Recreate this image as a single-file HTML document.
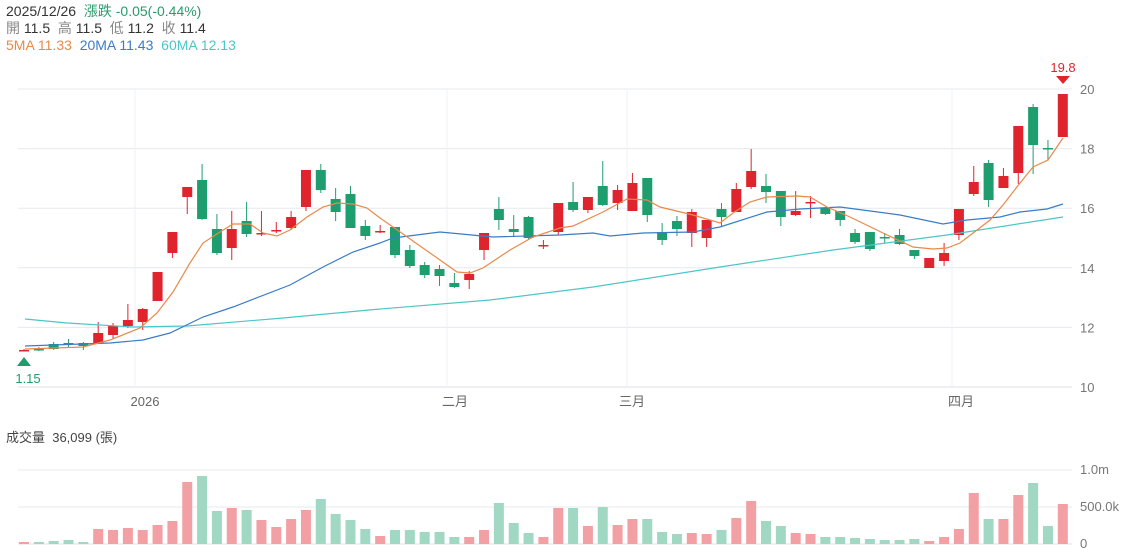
<!DOCTYPE html>
<html><head><meta charset="utf-8"><style>
body{margin:0;background:#fff;width:1133px;height:548px;overflow:hidden;font-family:"Liberation Sans","Noto Sans CJK TC",sans-serif}
.h{position:absolute;left:6px;font-size:14px;line-height:17px;white-space:nowrap}
.g{color:#888}.d{color:#333}
</style></head><body>
<div class="h d" style="top:3px">2025/12/26&nbsp;&nbsp;<span style="color:#2a9b6c">漲跌 -0.05(-0.44%)</span></div>
<div class="h" style="top:20px"><span class="g">開</span> <span class="d">11.5</span>&nbsp;&nbsp;<span class="g">高</span> <span class="d">11.5</span>&nbsp;&nbsp;<span class="g">低</span> <span class="d">11.2</span>&nbsp;&nbsp;<span class="g">收</span> <span class="d">11.4</span></div>
<div class="h" style="top:37px"><span style="color:#e8894a">5MA 11.33</span>&nbsp;&nbsp;<span style="color:#3a7cc8">20MA 11.43</span>&nbsp;&nbsp;<span style="color:#4cc6c8">60MA 12.13</span></div>
<div class="h" style="top:429px;color:#444;font-size:13px">成交量&nbsp;&nbsp;36,099 (張)</div>
<svg id="s" width="1133" height="548" style="position:absolute;left:0;top:0"></svg>
<script>
var s='';
function L(x1,y1,x2,y2,c,w){s+='<line x1="'+x1+'" y1="'+y1+'" x2="'+x2+'" y2="'+y2+'" stroke="'+c+'" stroke-width="'+(w||1)+'"/>';}
function T(x,y,t,c,a,fs){s+='<text x="'+x+'" y="'+y+'" fill="'+c+'" font-size="'+(fs||13)+'" text-anchor="'+(a||'start')+'" font-family="Liberation Sans,Noto Sans CJK TC,sans-serif">'+t+'</text>';}
var gc='#e6e8ee';
[89,148.6,208.2,267.8,327.4].forEach(function(y){L(18,y,1072,y,gc);});
L(18,387,1072,387,'#dcdfe6');
[135,447,627,952].forEach(function(x){L(x,89,x,387,'#eef0f4');});
[[20,89],[18,148.6],[16,208.2],[14,267.8],[12,327.4],[10,387]].forEach(function(a){T(1080,a[1]+5,a[0],'#777');});
T(145,406,'2026','#666','middle');T(455,406,'二月','#666','middle');T(632,406,'三月','#666','middle');T(961,406,'四月','#666','middle');
L(18,470,1072,470,gc);L(18,507,1072,507,gc);L(18,544,1072,544,'#e0e2e8');
T(1080,474,'1.0m','#777');T(1080,511,'500.0k','#777');T(1080,548,'0','#777');
var C=[[350,351,349,351,1],[349,349,347,351,0],[344,349,342,350,0],[343,343,339,347,0],[343,346,342,350,0],[333,343,322,343,1],[326,335,323,339,1],[320,326,304,328,1],[309,322,308,330,1],[272,301,272,301,1],[232,253,232,258,1],[187,197,187,214,1],[180,219,164,220,0],[229,253,214,255,0],[229,248,211,260,1],[221,234,202,237,0],[233,233,211,236,1],[230,230,222,233,1],[217,228,211,230,1],[170,207,170,211,1],[170,190,164,193,0],[199,212,188,221,0],[194,228,186,228,0],[226,236,220,240,0],[231,231,225,233,1],[227,255,227,258,0],[250,266,245,268,0],[265,275,262,278,0],[269,276,265,286,0],[283,287,273,288,0],[274,280,271,289,1],[233,250,233,260,1],[209,220,197,230,0],[229,232,215,237,0],[217,238,216,240,0],[245,245,240,249,1],[203,232,203,235,1],[202,210,182,212,0],[197,210,197,213,1],[186,205,161,206,0],[190,203,185,210,1],[183,211,173,211,1],[178,215,178,222,0],[232,240,223,245,0],[221,229,216,236,0],[212,233,209,247,1],[220,238,220,247,1],[209,217,203,227,0],[189,212,183,212,1],[171,187,149,189,1],[186,192,174,203,0],[191,217,191,226,0],[211,215,191,216,1],[202,202,196,218,1],[208,214,207,215,0],[211,220,211,226,0],[233,242,229,244,0],[232,249,232,251,0],[237,237,233,243,0],[235,244,229,245,0],[250,256,250,259,0],[258,268,258,268,1],[253,261,243,266,1],[209,235,209,240,1],[182,194,166,196,1],[163,200,160,207,0],[176,188,168,188,1],[126,173,126,184,1],[107,145,104,174,0],[148,148,140,160,0],[94,137,94,137,1]];
var V=[542,542,541,540,542,529,530,528,530,525,521,482,476,511,508,510,520,527,519,510,499,514,520,529,536,530,530,532,532,537,537,530,503,523,533,537,508,508,526,507,525,519,519,532,534,533,534,530,518,501,521,526,533,534,537,537,538,539,540,540,539,541,537,529,493,519,519,495,483,526,504];
function X(i){return 24+i*14.84;}
C.forEach(function(c,i){var x=X(i),col=c[4]?'#e0242d':'#1e9e6e';
L(x,c[2],x,c[3],col);var t=Math.min(c[0],c[1]),h=Math.max(Math.abs(c[1]-c[0]),1.5);
s+='<rect x="'+(x-5)+'" y="'+t+'" width="10" height="'+h+'" fill="'+col+'"/>';
s+='<rect x="'+(x-5)+'" y="'+V[i]+'" width="10" height="'+(544-V[i])+'" fill="'+(c[4]?'#f2a0a4':'#a0d8c4')+'"/>';});
function P(pts,c){s+='<polyline fill="none" stroke="'+c+'" stroke-width="1.2" points="'+pts+'"/>';}
P('25,319 67,323 133,327 187,326 283,318 380,309 490,300 593,287 720,267 833,250 947,235 1063,217','#4cc6c8');
P('25,346 110,343 143,340 170,333 203,317 233,307 290,285 323,267 353,252 380,243 393,238 440,232 493,237 560,235 593,233 610,236 643,233 693,232 720,227 767,212 800,209 840,207 900,215 943,224 967,220 1000,217 1020,212 1047,209 1063,204','#3a7cc8');
P('25,349 83,347 110,340 140,328 157,313 173,292 190,263 203,243 220,232 233,224 250,224 263,233 277,236 290,230 307,217 323,207 337,203 353,204 367,208 380,218 393,227 440,260 457,272 470,273 483,268 510,250 533,237 560,228 573,226 603,212 627,199 647,200 660,207 693,215 720,223 733,213 750,202 767,197 797,196 810,197 827,207 850,217 883,233 913,247 933,249 947,248 960,243 977,230 990,220 1003,205 1020,183 1033,167 1048,160 1063,138','#e8894a');
s+='<polygon points="1056,76 1070,76 1063,84" fill="#e0242d"/>';T(1063,72,'19.8','#e0242d','middle');
s+='<polygon points="17,366 31,366 24,357" fill="#1e9e6e"/>';T(28,383,'1.15','#1e9e6e','middle');
document.getElementById('s').innerHTML=s;
</script>
</body></html>
